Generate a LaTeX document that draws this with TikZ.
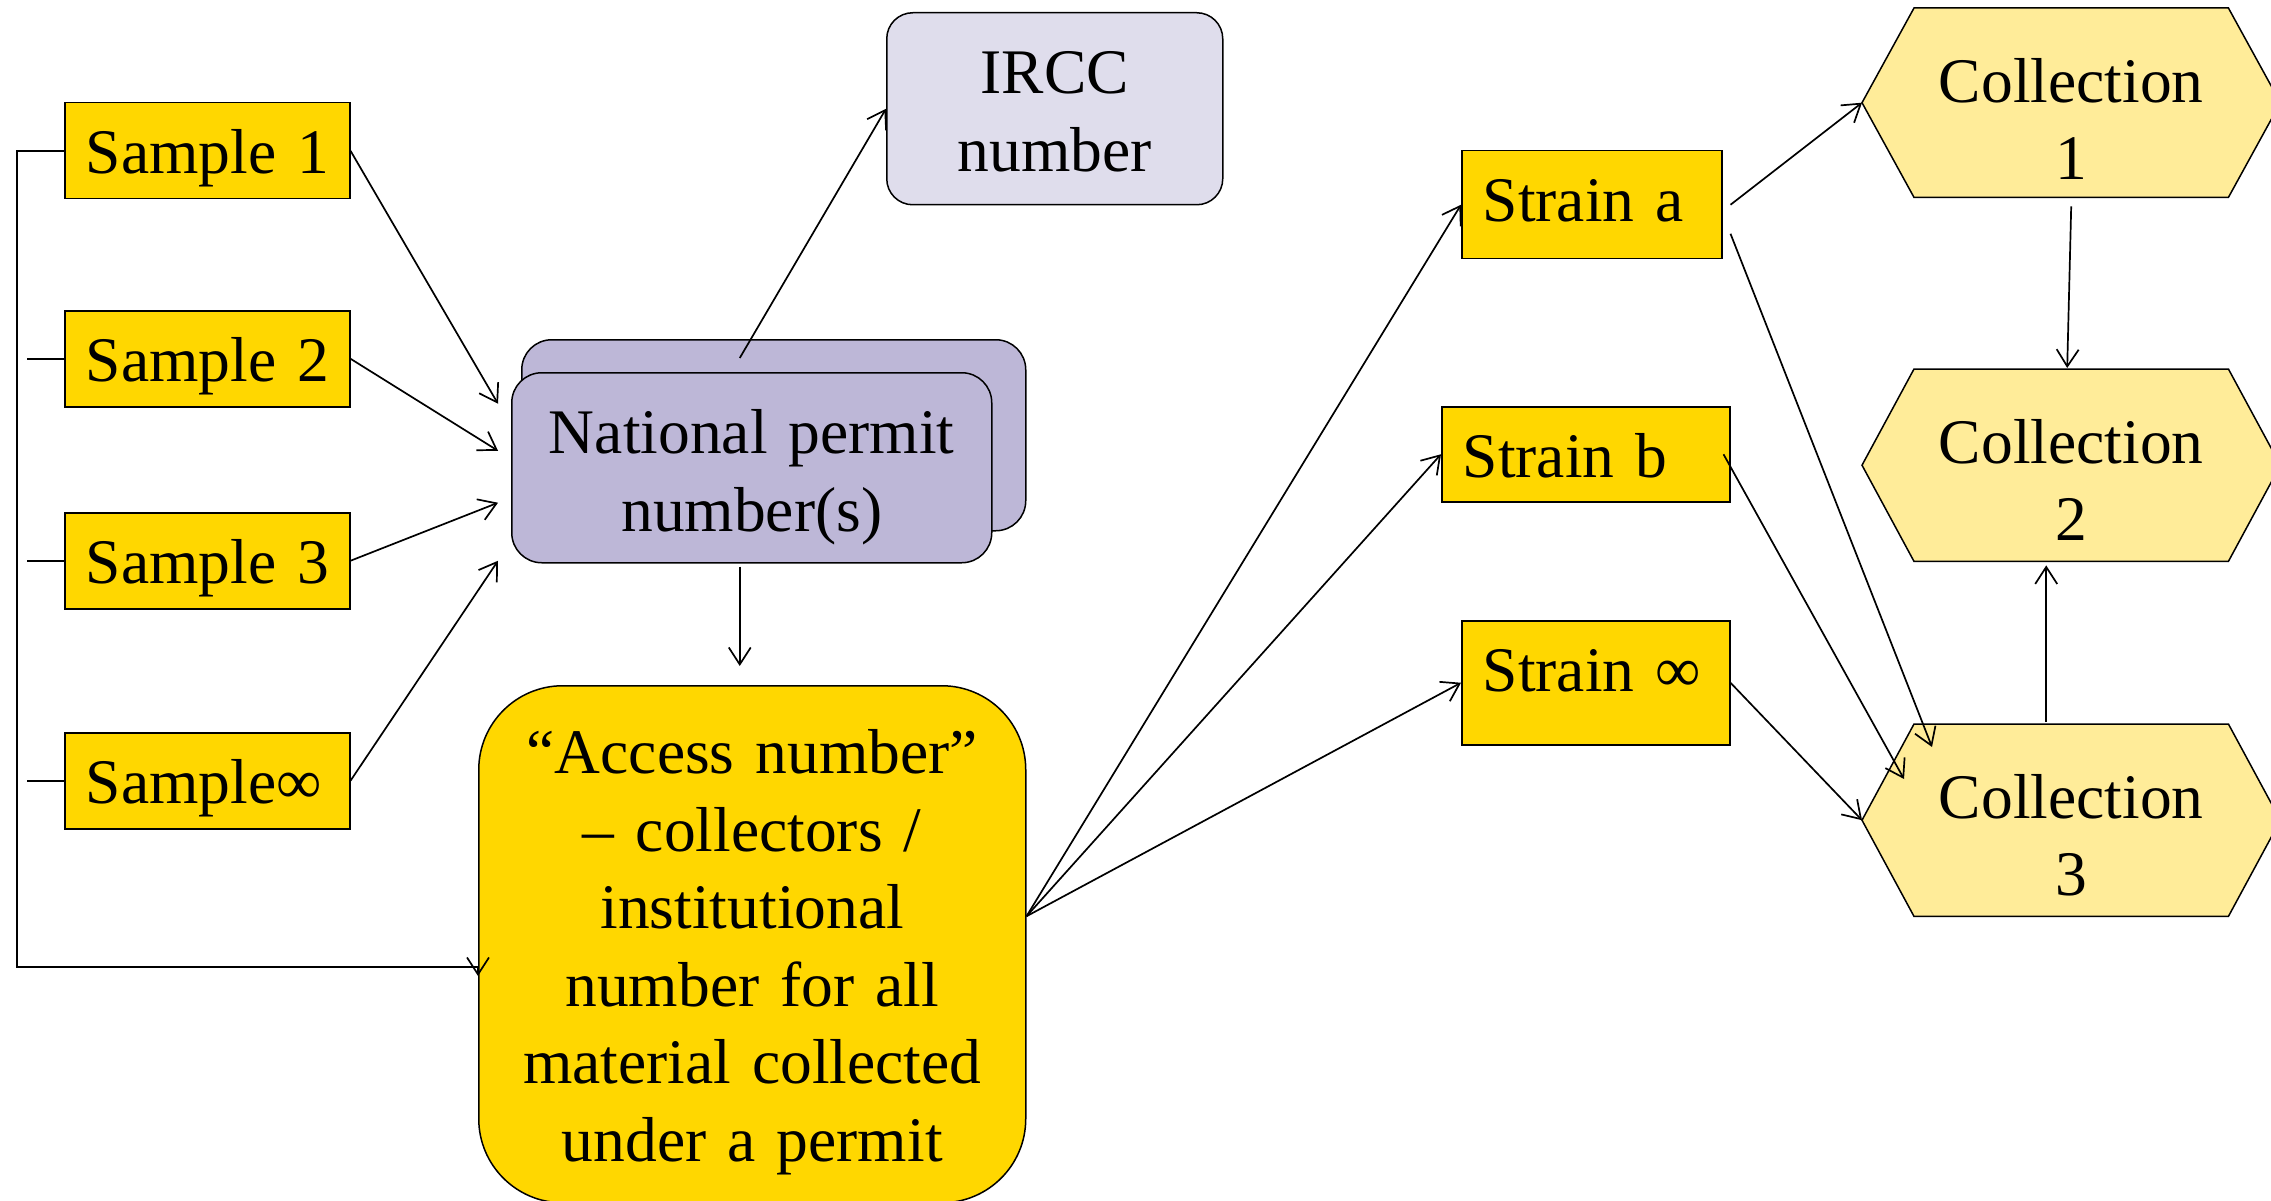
\documentclass[tikz,border=0pt]{standalone}
\usepackage{fontspec}
\setmainfont{Liberation Serif}
\usetikzlibrary{arrows.meta,calc,backgrounds}

\definecolor{tagyellow}{HTML}{FFD700}
\definecolor{permitlav}{HTML}{BDB7D7}
\definecolor{irccpale}{HTML}{DFDDEC}
\definecolor{hexyellow}{HTML}{FFEC99}

% hexagonal outline drawn around a collection node
\newcommand{\hexoutline}[1]{%
  \draw[hexline] (#1.west) -- ([xshift=52pt]#1.north west)
    -- ([xshift=-52pt]#1.north east) -- (#1.east)
    -- ([xshift=-52pt]#1.south east) -- ([xshift=52pt]#1.south west) -- cycle;}

\begin{document}
\begin{tikzpicture}[x=1pt,y=-1pt,
  every node/.style={font=\fontsize{63.5pt}{77.5pt}\selectfont},
  tag/.style={draw, line width=1.5pt, fill=tagyellow, anchor=north west,
    inner xsep=21pt, inner ysep=0pt, text height=71pt, align=left},
  roundbox/.style={draw, line width=1.5pt, anchor=north west, inner sep=0pt, align=center},
  hexbox/.style={anchor=north west, inner sep=0pt, text width=418pt,
    text height=94pt, align=center},
  hexline/.style={draw, line width=1.5pt, fill=hexyellow},
  plain/.style={draw, line width=1.7pt},
  arr/.style={draw, line width=1.7pt,
    -{Straight Barb[length=17pt,width=22pt,line width=1.7pt]}}]

\useasboundingbox (0,0) rectangle (2271,1201);

% samples
\node[tag, text width=243pt, text depth=25pt] (s1) at (64,102) {\mbox{Sample 1}};
\node[tag, text width=243pt, text depth=25pt] (s2) at (64,310) {\mbox{Sample 2}};
\node[tag, text width=243pt, text depth=25pt] (s3) at (64,512) {\mbox{Sample 3}};
\node[tag, text width=243pt, text depth=25pt] (s4) at (64,732) {\mbox{Sample∞}};

% permits and numbers
\node[roundbox, fill=permitlav, rounded corners=30pt, minimum width=504pt,
  minimum height=191pt] (natback) at (521,339) {};
\node[roundbox, fill=permitlav, rounded corners=30pt, text width=480pt,
  text height=81pt, text depth=109pt] (nat) at (511,372) {National permit\\number(s)};
\node[roundbox, fill=irccpale, rounded corners=26pt, text width=336pt,
  text height=81pt, text depth=111pt] (ircc) at (886,12) {IRCC\\number};
\node[roundbox, fill=tagyellow, rounded corners=84pt, text width=547pt,
  text height=88pt, text depth=429pt] (acc) at (478,685)
  {“Access number”\\– collectors /\\institutional\\number for all\\material collected\\under a permit};

% strains
\node[tag, text width=218pt, text depth=37pt] (sa) at (1461,150) {\mbox{Strain a}};
\node[tag, text width=246pt, text depth=24pt] (sb) at (1441,406) {\mbox{Strain b}};
\node[tag, text width=226pt, text depth=53pt] (sc) at (1461,620) {\mbox{Strain ∞}};

% collections
\node[hexbox, text depth=95pt] (c1) at (1862,8) {Collection\\1};
\node[hexbox, text depth=98pt] (c2) at (1862,369) {Collection\\2};
\node[hexbox, text depth=98pt] (c3) at (1862,724) {Collection\\3};
\begin{scope}[on background layer]
  \hexoutline{c1}
  \hexoutline{c2}
  \hexoutline{c3}
\end{scope}

% samples to permit
\draw[arr] (s1.east) -- ($(nat.west)+(-13,-64)$);
\draw[arr] (s2.east) -- ($(nat.west)+(-13,-17)$);
\draw[arr] (s3.east) -- ($(nat.west)+(-13,35)$);
\draw[arr] (s4.east) -- ($(nat.west)+(-13,93)$);

% samples bypassing the permit
\coordinate (loopc) at (17,967);
\draw[arr] (s1.west) -| (loopc) -- (acc.west |- loopc) -- ++(0,9);
\draw[plain] (s2.west) -- ++(-37,0);
\draw[plain] (s3.west) -- ++(-37,0);
\draw[plain] (s4.west) -- ++(-37,0);

% permit to IRCC and access number
\draw[arr] ($(natback.north)+(-34,19)$) -- (ircc.west);
\draw[arr] ($(nat.south)+(-12,3)$) -- ($(acc.north)+(-12.5,-19)$);

% access number to strains
\coordinate (fan) at ($(acc.east)+(0,-28)$);
\draw[arr] (fan) -- (sa.west);
\draw[arr] (fan) -- (sb.west);
\draw[arr] (fan) -- (sc.west);

% strains to collections
\draw[arr] ($(sa.east)+(8,0)$) -- (c1.west);
\draw[arr] ($(sa.east)+(8,29)$) -- ($(c3.north west)+(70,23)$);
\draw[arr] ($(sb.east)+(-7,0)$) -- ($(c3.north west)+(42,55)$);
\draw[arr] (sc.east) -- (c3.west);

% between collections
\draw[arr] ($(c1.south)+(0,9)$) -- ($(c2.north)+(-4,-1)$);
\draw[arr] ($(c3.north)+(-25,-2)$) -- ($(c2.south)+(-25,4)$);

\end{tikzpicture}
\end{document}
